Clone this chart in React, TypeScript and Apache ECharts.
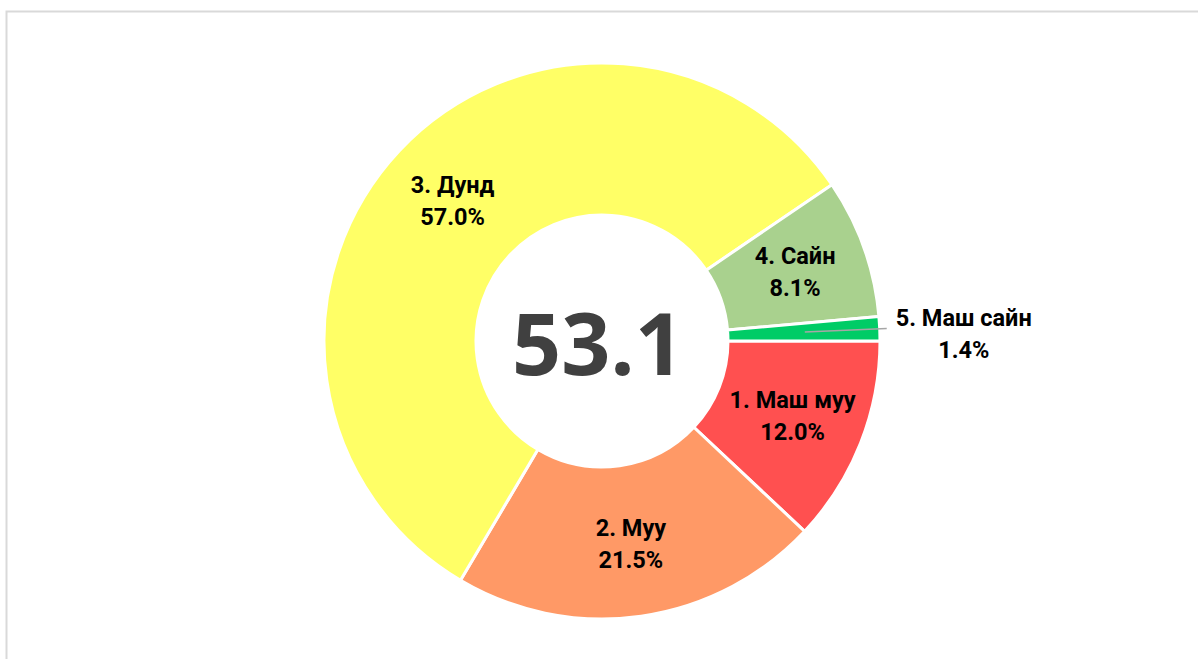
import React, { useEffect, useRef } from "react";
import * as echarts from "echarts";

const categories = ["1. Маш муу", "2. Муу", "3. Дунд", "4. Сайн", "5. Маш сайн"];
const values = [12.0, 21.5, 57.0, 8.1, 1.4];
const colors = ["#FF5050", "#FF9966", "#FFFF66", "#A9D18E", "#00CC66"];
const centerValue = "53.1";

const CX = 602;
const CY = 341;
const OUTSIDE_INDEX = 4;

const labelFont = {
  fontFamily: "Roboto",
  fontWeight: "bold",
  fontSize: 23.5,
  lineHeight: 32,
  color: "#000",
};

export default function App() {
  const ref = useRef<HTMLDivElement>(null);
  useEffect(() => {
    document.body.style.margin = "0";
    const chart = echarts.init(ref.current!, null, { renderer: "svg" });

    const mainData = categories.map((name, i) => ({
      name,
      value: values[i],
      itemStyle: { color: colors[i] },
      label: { show: i !== OUTSIDE_INDEX },
    }));

    // overlay pie (transparent) used only to draw the outside label whose leader line starts inside the slice
    const overlayData = categories.map((name, i) => ({
      name,
      value: values[i],
      itemStyle: { color: "rgba(0,0,0,0)" },
      label: { show: i === OUTSIDE_INDEX },
      labelLine: { show: i === OUTSIDE_INDEX },
    }));

    chart.setOption({
      animation: false,
      backgroundColor: "#ffffff",
      graphic: [
        {
          type: "rect",
          shape: { x: 6.5, y: 11.5, width: 1400, height: 900 },
          style: { fill: "none", stroke: "#D9D9D9", lineWidth: 2 },
          silent: true,
        },
        {
          type: "text",
          x: CX - 4,
          y: CY,
          z: 10,
          style: {
            text: centerValue,
            fontFamily: "Open Sans",
            fontWeight: "bold",
            fontSize: 86,
            fill: "#404040",
            textAlign: "center",
            textVerticalAlign: "middle",
          },
        },
      ],
      series: [
        {
          type: "pie",
          center: [CX, CY],
          radius: [126, 278],
          startAngle: 0,
          clockwise: true,
          avoidLabelOverlap: false,
          itemStyle: { borderColor: "#ffffff", borderWidth: 3 },
          label: {
            position: "inside",
            formatter: (p: any) => `${p.name}\n${p.value.toFixed(1)}%`,
            align: "center",
            ...labelFont,
          },
          labelLine: { show: false },
          emphasis: { disabled: true },
          data: mainData,
        },
        {
          type: "pie",
          z: 5,
          silent: true,
          center: [CX, CY],
          radius: [126, 203],
          startAngle: 0,
          clockwise: true,
          avoidLabelOverlap: false,
          itemStyle: { borderWidth: 0 },
          label: {
            position: "outside",
            distanceToLabelLine: 6,
            padding: [11, 0, 0, 0],
            formatter: (p: any) => `{a|${p.name}}\n{a|${p.value.toFixed(1)}%}`,
            rich: {
              a: { width: 142, align: "center", ...labelFont },
            },
          },
          labelLine: {
            length: 82,
            length2: 0,
            lineStyle: { color: "#A6A6A6", width: 1.5 },
          },
          emphasis: { disabled: true },
          data: overlayData,
        },
      ],
    });
    return () => chart.dispose();
  }, []);
  return <div ref={ref} style={{ width: 1198, height: 659 }} />;
}
